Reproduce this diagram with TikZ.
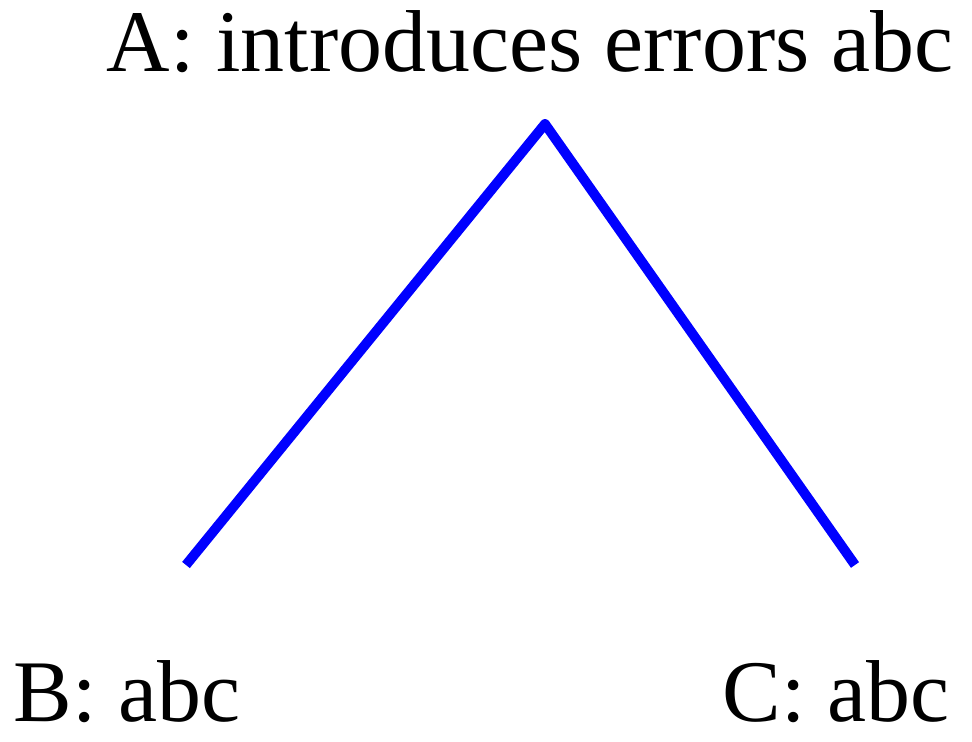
\documentclass[tikz,border=0pt]{standalone}
\usepackage{fontspec}
\setmainfont{Liberation Serif}
\usepackage{xcolor}
\usetikzlibrary{positioning}
\definecolor{branch}{HTML}{0000FF}

\begin{document}
\begin{tikzpicture}[x=1cm,y=1cm,every node/.style={font=\fontsize{25}{30}\selectfont,inner sep=0pt}]
          \useasboundingbox (0,0) rectangle (9.72,7.42);
          \node[anchor=base west] (a) at (1.06,6.70) {A: introduces errors abc};
          \node[anchor=base west] (b) at (0.13,0.2) {B: abc};
          \node[anchor=base west] (c) at (7.22,0.2) {C: abc};
          \coordinate (top) at (5.45,6.18);
          \coordinate (bl) at (1.86,1.77);
          \coordinate (cr) at (8.55,1.77);
          \draw[branch,line width=2.8pt,line join=round] (bl) -- (top) -- (cr);
        \end{tikzpicture}
\end{document}
